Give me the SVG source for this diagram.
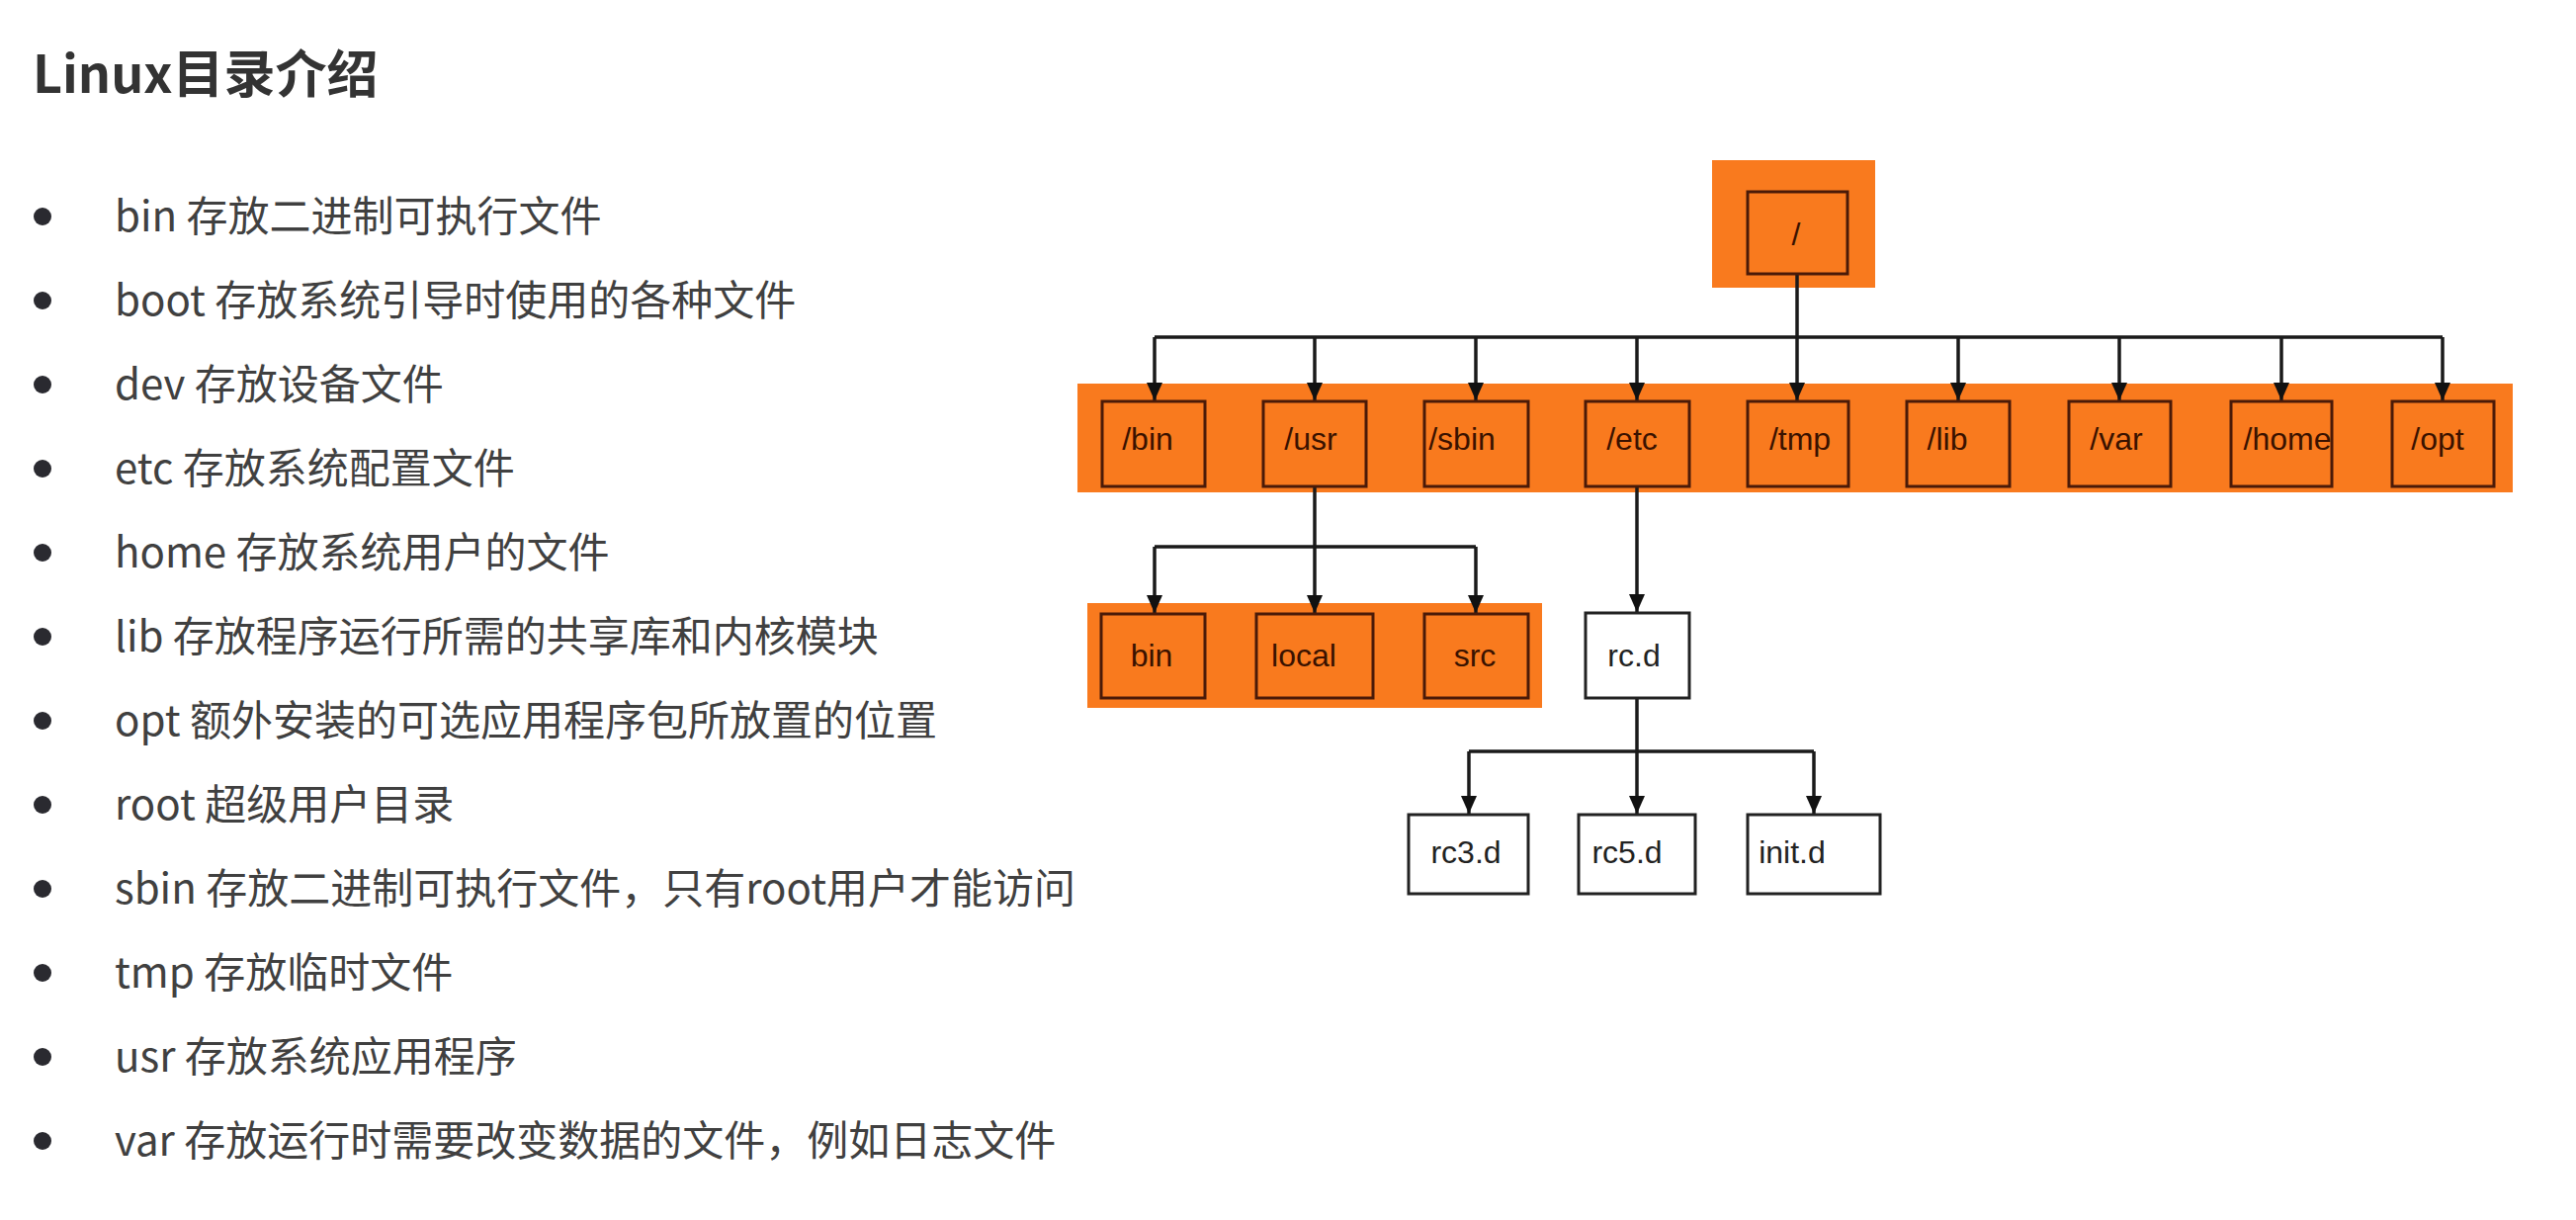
<svg xmlns="http://www.w3.org/2000/svg" width="2606" height="1234" viewBox="0 0 2606 1234">
<style>
.title{font-family:"Noto Sans CJK SC","Noto Sans",sans-serif;font-weight:700;font-size:52px;fill:#333}
.item{font-family:"Noto Sans CJK SC","Noto Sans",sans-serif;font-size:42px;fill:#404040}
.dot{fill:#2a2a30}
.band{fill:#F97A1E}
.obox{fill:#F97A1E;stroke:#4a1a08;stroke-width:3}
.wbox{fill:#ffffff;stroke:#222;stroke-width:3}
.lbl{font-family:"Liberation Sans",Arial,sans-serif;font-size:32px;text-anchor:middle}
.olbl{fill:#3a1200}
.wlbl{fill:#222}
.conn{fill:none;stroke:#1a1a1a;stroke-width:3.5}
</style>
<defs>
<marker id="arr" viewBox="0 0 18 16" refX="18" refY="8" markerWidth="18" markerHeight="16" markerUnits="userSpaceOnUse" orient="auto">
<path d="M0,0 L18,8 L0,16 z" fill="#111"/>
</marker>
</defs>
<rect width="2606" height="1234" fill="#ffffff"/>
<text class="title" x="33" y="94">Linux目录介绍</text>
<g id="list">
<circle class="dot" cx="43" cy="219" r="9"/><text class="item" x="116" y="234">bin 存放二进制可执行文件</text>
<circle class="dot" cx="43" cy="304" r="9"/><text class="item" x="116" y="319">boot 存放系统引导时使用的各种文件</text>
<circle class="dot" cx="43" cy="389" r="9"/><text class="item" x="116" y="404">dev 存放设备文件</text>
<circle class="dot" cx="43" cy="474" r="9"/><text class="item" x="116" y="489">etc 存放系统配置文件</text>
<circle class="dot" cx="43" cy="559" r="9"/><text class="item" x="116" y="574">home 存放系统用户的文件</text>
<circle class="dot" cx="43" cy="644" r="9"/><text class="item" x="116" y="659">lib 存放程序运行所需的共享库和内核模块</text>
<circle class="dot" cx="43" cy="729" r="9"/><text class="item" x="116" y="744">opt 额外安装的可选应用程序包所放置的位置</text>
<circle class="dot" cx="43" cy="814" r="9"/><text class="item" x="116" y="829">root 超级用户目录</text>
<circle class="dot" cx="43" cy="899" r="9"/><text class="item" x="116" y="914">sbin 存放二进制可执行文件，只有root用户才能访问</text>
<circle class="dot" cx="43" cy="984" r="9"/><text class="item" x="116" y="999">tmp 存放临时文件</text>
<circle class="dot" cx="43" cy="1069" r="9"/><text class="item" x="116" y="1084">usr 存放系统应用程序</text>
<circle class="dot" cx="43" cy="1154" r="9"/><text class="item" x="116" y="1169">var 存放运行时需要改变数据的文件，例如日志文件</text>
</g>
<g id="bands">
<rect class="band" x="1732" y="162" width="165" height="129"/>
<rect class="band" x="1090" y="388" width="1452" height="110"/>
<rect class="band" x="1100" y="610" width="460" height="106"/>
</g>
<g id="connectors">
<path class="conn" d="M1818,277 V405" marker-end="url(#arr)"/>
<path class="conn" d="M1168,341 H2471"/>
<path class="conn" d="M1168,341 V405" marker-end="url(#arr)"/>
<path class="conn" d="M1330,341 V405" marker-end="url(#arr)"/>
<path class="conn" d="M1493,341 V405" marker-end="url(#arr)"/>
<path class="conn" d="M1656,341 V405" marker-end="url(#arr)"/>
<path class="conn" d="M1981,341 V405" marker-end="url(#arr)"/>
<path class="conn" d="M2144,341 V405" marker-end="url(#arr)"/>
<path class="conn" d="M2308,341 V405" marker-end="url(#arr)"/>
<path class="conn" d="M2471,341 V405" marker-end="url(#arr)"/>
<path class="conn" d="M1330,492 V620" marker-end="url(#arr)"/>
<path class="conn" d="M1168,553 H1493"/>
<path class="conn" d="M1168,553 V620" marker-end="url(#arr)"/>
<path class="conn" d="M1493,553 V620" marker-end="url(#arr)"/>
<path class="conn" d="M1656,492 V619" marker-end="url(#arr)"/>
<path class="conn" d="M1656,706 V823" marker-end="url(#arr)"/>
<path class="conn" d="M1486,760 H1835"/>
<path class="conn" d="M1486,760 V823" marker-end="url(#arr)"/>
<path class="conn" d="M1835,760 V823" marker-end="url(#arr)"/>
</g>
<g id="n-root"><rect class="obox" x="1768" y="194" width="101" height="83"/><text class="lbl olbl" x="1817" y="248">/</text></g>
<g id="n-bin"><rect class="obox" x="1115" y="406" width="104" height="86"/><text class="lbl olbl" x="1161" y="455">/bin</text></g>
<g id="n-usr"><rect class="obox" x="1278" y="406" width="104" height="86"/><text class="lbl olbl" x="1326" y="455">/usr</text></g>
<g id="n-sbin"><rect class="obox" x="1441" y="406" width="105" height="86"/><text class="lbl olbl" x="1479" y="455">/sbin</text></g>
<g id="n-etc"><rect class="obox" x="1604" y="406" width="105" height="86"/><text class="lbl olbl" x="1651" y="455">/etc</text></g>
<g id="n-tmp"><rect class="obox" x="1768" y="406" width="102" height="86"/><text class="lbl olbl" x="1821" y="455">/tmp</text></g>
<g id="n-lib"><rect class="obox" x="1929" y="406" width="104" height="86"/><text class="lbl olbl" x="1970" y="455">/lib</text></g>
<g id="n-var"><rect class="obox" x="2093" y="406" width="103" height="86"/><text class="lbl olbl" x="2141" y="455">/var</text></g>
<g id="n-home"><rect class="obox" x="2257" y="406" width="102" height="86"/><text class="lbl olbl" x="2314" y="455">/home</text></g>
<g id="n-opt"><rect class="obox" x="2420" y="406" width="103" height="86"/><text class="lbl olbl" x="2466" y="455">/opt</text></g>
<g id="n-usr-bin"><rect class="obox" x="1114" y="621" width="105" height="85"/><text class="lbl olbl" x="1165" y="674">bin</text></g>
<g id="n-usr-local"><rect class="obox" x="1271" y="621" width="118" height="85"/><text class="lbl olbl" x="1319" y="674">local</text></g>
<g id="n-usr-src"><rect class="obox" x="1441" y="621" width="105" height="85"/><text class="lbl olbl" x="1492" y="674">src</text></g>
<g id="n-rcd"><rect class="wbox" x="1604" y="620" width="105" height="86"/><text class="lbl wlbl" x="1653" y="674">rc.d</text></g>
<g id="n-rc3d"><rect class="wbox" x="1425" y="824" width="121" height="80"/><text class="lbl wlbl" x="1483" y="873">rc3.d</text></g>
<g id="n-rc5d"><rect class="wbox" x="1597" y="824" width="118" height="80"/><text class="lbl wlbl" x="1646" y="873">rc5.d</text></g>
<g id="n-initd"><rect class="wbox" x="1768" y="824" width="134" height="80"/><text class="lbl wlbl" x="1813" y="873">init.d</text></g>
</svg>
